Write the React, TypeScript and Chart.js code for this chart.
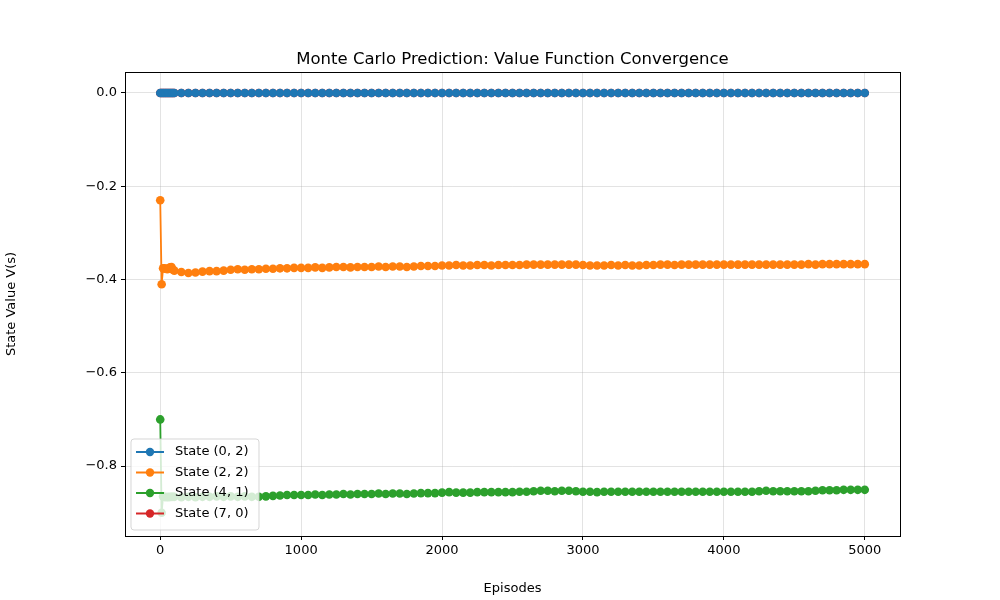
import React, { useEffect, useRef } from "react";
import { Chart, registerables } from "chart.js";
Chart.register(...registerables);

const earlyEpisodes = [0, 10, 20, 30, 40, 50, 60, 70, 80, 90];
const laterEpisodes = Array.from({ length: 99 }, (_, i) => 100 + i * 50);
const episodes = [...earlyEpisodes, ...laterEpisodes];

const state22 = [
  -0.23, -0.41, -0.376, -0.376, -0.377, -0.378, -0.376, -0.374, -0.373, -0.379,
  -0.381, -0.384, -0.386, -0.385,
  -0.383, -0.382, -0.382, -0.381,
  -0.379, -0.378, -0.379, -0.378, -0.378, -0.377,
  -0.377, -0.376, -0.376, -0.375,
  -0.375, -0.375, -0.374, -0.375, -0.374, -0.373, -0.373, -0.374, -0.373, -0.373,
  -0.373, -0.372, -0.373, -0.372, -0.372, -0.373, -0.372, -0.371, -0.371, -0.371,
  -0.37, -0.37, -0.369, -0.37, -0.37, -0.369, -0.369, -0.37, -0.369, -0.369,
  -0.369, -0.369, -0.368, -0.368, -0.368, -0.368, -0.368, -0.368, -0.368, -0.368,
  -0.369, -0.37, -0.37, -0.37, -0.369, -0.37, -0.369, -0.37, -0.37, -0.369,
  -0.369, -0.368, -0.368, -0.369, -0.368, -0.368, -0.368, -0.368, -0.368, -0.368,
  -0.368, -0.368, -0.368, -0.368, -0.368, -0.368, -0.368, -0.368, -0.368, -0.368,
  -0.368, -0.368, -0.367, -0.368, -0.367, -0.367, -0.367, -0.367, -0.367, -0.367, -0.367,
];

const state41 = [
  -0.7, -0.9, -0.865, -0.866, -0.867, -0.866, -0.867, -0.866, -0.866, -0.866,
  -0.866, -0.867, -0.866, -0.867,
  -0.866, -0.866, -0.865, -0.866,
  -0.865, -0.866, -0.865, -0.866, -0.866, -0.865,
  -0.864, -0.863, -0.862, -0.862,
  -0.862, -0.862, -0.861, -0.862, -0.861, -0.861, -0.86, -0.861, -0.86, -0.86,
  -0.86, -0.859, -0.86, -0.859, -0.859, -0.86, -0.859, -0.858, -0.858, -0.858,
  -0.857, -0.856, -0.857, -0.857, -0.857, -0.856, -0.856, -0.856, -0.856, -0.856,
  -0.856, -0.855, -0.855, -0.854, -0.853, -0.853, -0.854, -0.853, -0.853, -0.854,
  -0.855, -0.855, -0.856, -0.855, -0.855, -0.855, -0.855, -0.855, -0.855, -0.855,
  -0.855, -0.855, -0.855, -0.855, -0.855, -0.855, -0.855, -0.855, -0.855, -0.855,
  -0.855, -0.855, -0.855, -0.855, -0.855, -0.854, -0.853, -0.854, -0.854, -0.854,
  -0.854, -0.854, -0.854, -0.853, -0.852, -0.852, -0.852, -0.851, -0.851, -0.851, -0.851,
];

const state02 = episodes.map(() => 0);
const state70 = episodes.map(() => 0);

const xTicks = [0, 1000, 2000, 3000, 4000, 5000];
const yTicks = [-0.8, -0.6, -0.4, -0.2, 0.0];

const seriesNames = ["State (0, 2)", "State (2, 2)", "State (4, 1)", "State (7, 0)"];
const seriesColors = ["#1f77b4", "#ff7f0e", "#2ca02c", "#d62728"];
const seriesValues = [state02, state22, state41, state70];

const FONT = "'DejaVu Sans', sans-serif";

const framePlugin = {
  id: "frame",
  afterDraw(chart: any) {
    const { ctx, chartArea: a } = chart;
    ctx.save();
    ctx.strokeStyle = "#000";
    ctx.lineWidth = 1;
    ctx.strokeRect(a.left + 0.5, a.top + 0.5, a.right - a.left, a.bottom - a.top);
    // title
    ctx.fillStyle = "#000";
    ctx.font = `16.5px ${FONT}`;
    ctx.textAlign = "center";
    ctx.textBaseline = "alphabetic";
    ctx.fillText("Monte Carlo Prediction: Value Function Convergence", (a.left + a.right) / 2, 64);
    // legend
    const lx = a.left + 6, ly = a.bottom - 97, lw = 128, lh = 91;
    ctx.globalAlpha = 0.8;
    ctx.fillStyle = "#fff";
    ctx.beginPath();
    (ctx as any).roundRect(lx, ly, lw, lh, 3);
    ctx.fill();
    ctx.strokeStyle = "#ccc";
    ctx.stroke();
    ctx.globalAlpha = 1;
    ctx.font = `13px ${FONT}`;
    ctx.textAlign = "left";
    ctx.textBaseline = "middle";
    seriesNames.forEach((n, i) => {
      const y = ly + 13 + i * 20.5;
      ctx.strokeStyle = seriesColors[i];
      ctx.lineWidth = 2;
      ctx.beginPath();
      ctx.moveTo(lx + 5, y);
      ctx.lineTo(lx + 33, y);
      ctx.stroke();
      ctx.fillStyle = seriesColors[i];
      ctx.beginPath();
      ctx.arc(lx + 19, y, 4.2, 0, Math.PI * 2);
      ctx.fill();
      ctx.fillStyle = "#000";
      ctx.fillText(n, lx + 44, y);
    });
    ctx.restore();
  },
};

export default function App() {
  const ref = useRef<HTMLCanvasElement>(null);
  useEffect(() => {
    const chart = new Chart(ref.current!, {
      type: "line",
      data: {
        datasets: seriesNames.map((n, i) => ({
          label: n,
          data: episodes.map((e, j) => ({ x: e, y: seriesValues[i][j] })),
          borderColor: seriesColors[i],
          backgroundColor: seriesColors[i],
          borderWidth: 1.8,
          pointRadius: 4.3,
          pointBorderWidth: 0,
          tension: 0,
        })),
      },
      options: {
        animation: false,
        responsive: false,
        layout: { padding: { top: 72, right: 100, left: 0, bottom: 0 } },
        plugins: { legend: { display: false }, tooltip: { enabled: false } },
        scales: {
          x: {
            type: "linear",
            min: -250,
            max: 5250,
            afterBuildTicks: (s: any) => { s.ticks = xTicks.map((v) => ({ value: v })); },
            afterFit: (s: any) => { s.height = 64; },
            ticks: { color: "#000", font: { family: FONT, size: 13 }, padding: 3, maxRotation: 0, callback: (v: any) => String(v) },
            grid: { color: "rgba(176,176,176,0.35)", tickLength: 4, tickColor: "#000" },
            border: { display: false },
            title: { display: true, text: "Episodes", color: "#000", font: { family: FONT, size: 13 }, padding: { top: 2 } },
          },
          y: {
            min: -0.95,
            max: 0.045,
            afterBuildTicks: (s: any) => { s.ticks = yTicks.map((v) => ({ value: v })); },
            afterFit: (s: any) => { s.width = 125; },
            ticks: {
              color: "#000",
              font: { family: FONT, size: 13 },
              padding: 4,
              callback: (v: any) => (Number(v) < 0 ? "\u2212" : "") + Math.abs(Number(v)).toFixed(1),
            },
            grid: { color: "rgba(176,176,176,0.35)", tickLength: 4, tickColor: "#000" },
            border: { display: false },
            title: { display: true, text: "State Value V(s)", color: "#000", font: { family: FONT, size: 13 }, padding: { bottom: 8 } },
          },
        },
      },
      plugins: [framePlugin],
    });
    return () => chart.destroy();
  }, []);
  return (
    <div style={{ position: "fixed", left: 0, top: 0, width: 1000, height: 600, background: "#fff" }}>
      <canvas ref={ref} width={1000} height={600} style={{ width: 1000, height: 600 }} />
    </div>
  );
}
